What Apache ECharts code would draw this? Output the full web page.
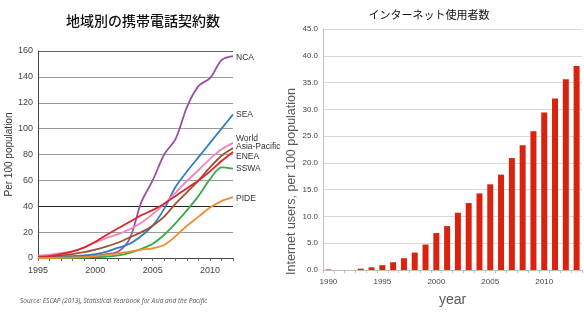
<!DOCTYPE html>
<html>
<head>
<meta charset="utf-8">
<script src="https://cdn.jsdelivr.net/npm/echarts@6/dist/echarts.min.js"></script>
<style>
  html, body { margin: 0; padding: 0; background: #fff; }
  #main { width: 584px; height: 312px; }
</style>
</head>
<body>
<div id="main"></div>
<script>
	/*************** 左: 地域別の携帯電話契約数 **************/
	var lineYears = [1995,1996,1997,1998,1999,2000,2001,2002,2003,2004,2005,2006,2007,2008,2009,2010,2011,2012];
	var nca      = [0,0,0.5,1,1.5,2,3,5,15,43,60,80,92,117,133,139,153,156];
	var sea      = [0,0.5,1,1.5,2,3,5,8,11,17,25,38,55,67,78,89,100,111];
	var world    = [1.6,2.5,3.7,5.3,8.1,12,15.5,18.4,22.2,27.3,33.9,41.7,50.6,59.7,68,76.6,84,89];
	var asiaPac  = [0.5,1,2,3,4.5,6.5,9,12,16,20,25,32,42,51,60,70,79,85];
	var enea     = [1,1.5,3,5,8,12.5,18,23,28,33,37,42,48,54,60,67,75,82];
	var sswa     = [0,0,0,0.2,0.4,0.7,1,2,4,7,11,18,27,37,48,61,70,69];
	var pide     = [0,0,0.2,0.4,0.7,1.5,2.5,3.5,5,6.5,7.5,10,17,25,32,39,44,47];

	/*************** 右: インターネット使用者数 **************/
	var barYears = ['1990','1991','1992','1993','1994','1995','1996','1997','1998','1999','2000','2001',
	                '2002','2003','2004','2005','2006','2007','2008','2009','2010','2011','2012','2013'];
	var internet = [0.1,0,0,0.25,0.5,0.9,1.45,2.2,3.25,4.75,6.9,8.2,10.7,12.5,14.3,16.0,17.8,20.9,23.3,25.9,29.4,32.0,35.6,38.1];

	function pairs(arr){
		return lineYears.map(function(y, i){ return [y, arr[i]]; });
	}

	function lineSeries(name, arr, color, off){
		return {
			name: name,
			type: 'line',
			xAxisIndex: 0,
			yAxisIndex: 0,
			data: pairs(arr),
			smooth: 0.3,
			symbol: 'none',
			lineStyle: { width: 1.8, color: color },
			endLabel: {
				show: true,
				formatter: '{a}',
				distance: 3,
				offset: off,
				fontSize: 8.5,
				fontFamily: 'Liberation Sans Narrow, Arial, sans-serif',
				color: '#333'
			}
		};
	}

	var chart = echarts.init(document.getElementById("main"));
	var opt = {
		animation: false,
		title: [{
			text: '地域別の携帯電話契約数',
			left: 138,
			top: 9,
			textAlign: 'center',
			textStyle: { fontFamily: 'Noto Sans CJK JP', fontSize: 14, fontWeight: 500, color: '#111' }
		}, {
			text: 'インターネット使用者数',
			left: 424,
			top: 4,
			textAlign: 'center',
			textStyle: { fontFamily: 'Noto Sans CJK JP', fontSize: 11, fontWeight: 'normal', color: '#111' }
		}],
		grid: [
			{ left: 38, top: 51, width: 195, height: 207 },
			{ left: 323, top: 29, width: 259, height: 250 }
		],
		xAxis: [{
			type: 'value',
			gridIndex: 0,
			min: 1995,
			max: 2012,
			interval: 5,
			axisLine: { lineStyle: { color: '#444', width: 1 } },
			axisTick: { show: true, length: 3, lineStyle: { color: '#666' } },
			minorTick: { show: true, splitNumber: 5, length: 3, lineStyle: { color: '#666' } },
			splitLine: { show: false },
			axisLabel: {
				fontSize: 9, color: '#444', margin: 8, showMaxLabel: false,
				fontFamily: 'Liberation Sans Narrow, Arial, sans-serif',
				formatter: function(v){ return String(v); }
			}
		}, {
			type: 'category',
			gridIndex: 1,
			data: barYears,
			axisLine: { lineStyle: { color: '#bfbfbf' } },
			axisTick: { show: true, interval: 0, length: 3, lineStyle: { color: '#bfbfbf' } },
			axisLabel: { interval: 4, fontSize: 8, color: '#444', margin: 8, fontFamily: 'Liberation Sans Narrow, Arial, sans-serif' },
			name: 'year',
			nameLocation: 'middle',
			nameGap: 23,
			nameTextStyle: { fontSize: 14, color: '#595959', fontFamily: 'Liberation Sans, Arial, sans-serif' }
		}],
		yAxis: [{
			type: 'value',
			gridIndex: 0,
			min: 0,
			max: 160,
			interval: 20,
			axisLine: { show: true, lineStyle: { color: '#444' } },
			axisTick: { show: false },
			splitLine: { show: true, lineStyle: { width: 1, color: ['#999','#999','#222','#999','#999','#999','#999','#999','#666'] } },
			axisLabel: { fontSize: 9, color: '#444', margin: 5, fontFamily: 'Liberation Sans Narrow, Arial, sans-serif' },
			name: 'Per 100 population',
			nameLocation: 'middle',
			nameGap: 18,
			nameTextStyle: { fontSize: 10, color: '#333', fontFamily: 'Liberation Sans, Arial, sans-serif' }
		}, {
			type: 'value',
			gridIndex: 1,
			min: 0,
			max: 45,
			interval: 5,
			axisLine: { show: true, lineStyle: { color: '#bfbfbf' } },
			axisTick: { show: false },
			splitLine: { lineStyle: { color: '#d9d9d9' } },
			axisLabel: {
				fontSize: 8, color: '#444', margin: 5,
				fontFamily: 'Liberation Sans Narrow, Arial, sans-serif',
				formatter: function(v){ return v.toFixed(1); }
			},
			name: 'Internet users, per 100 population',
			nameLocation: 'middle',
			nameGap: 17,
			nameTextStyle: { fontSize: 12.5, color: '#595959', fontFamily: 'Liberation Sans, Arial, sans-serif', padding: [0, 64, 0, 0] }
		}],
		graphic: [{
			type: 'text',
			left: 20,
			top: 298,
			style: {
				text: 'Source: ESCAP (2013), Statistical Yearbook for Asia and the Pacific',
				fontSize: 6.5,
				fontStyle: 'italic',
				fontFamily: 'Open Sans, sans-serif',
				fill: '#555'
			}
		}],
		series: [
			lineSeries('NCA', nca, '#9a4fa6', [0, 1]),
			lineSeries('SEA', sea, '#2f7fc0', [0, 0]),
			lineSeries('World', world, '#ec86bb', [0, -4]),
			lineSeries('Asia-Pacific', asiaPac, '#a0522d', [0, -1]),
			lineSeries('ENEA', enea, '#d9262c', [0, 5]),
			lineSeries('SSWA', sswa, '#3aa845', [0, 0]),
			lineSeries('PIDE', pide, '#f08c2c', [0, 1]),
			{
				name: 'Internet',
				type: 'bar',
				xAxisIndex: 1,
				yAxisIndex: 1,
				data: internet,
				barWidth: 6,
				itemStyle: { color: '#d9230f' }
			}
		]
	};
	chart.setOption(opt);
</script>
</body>
</html>
